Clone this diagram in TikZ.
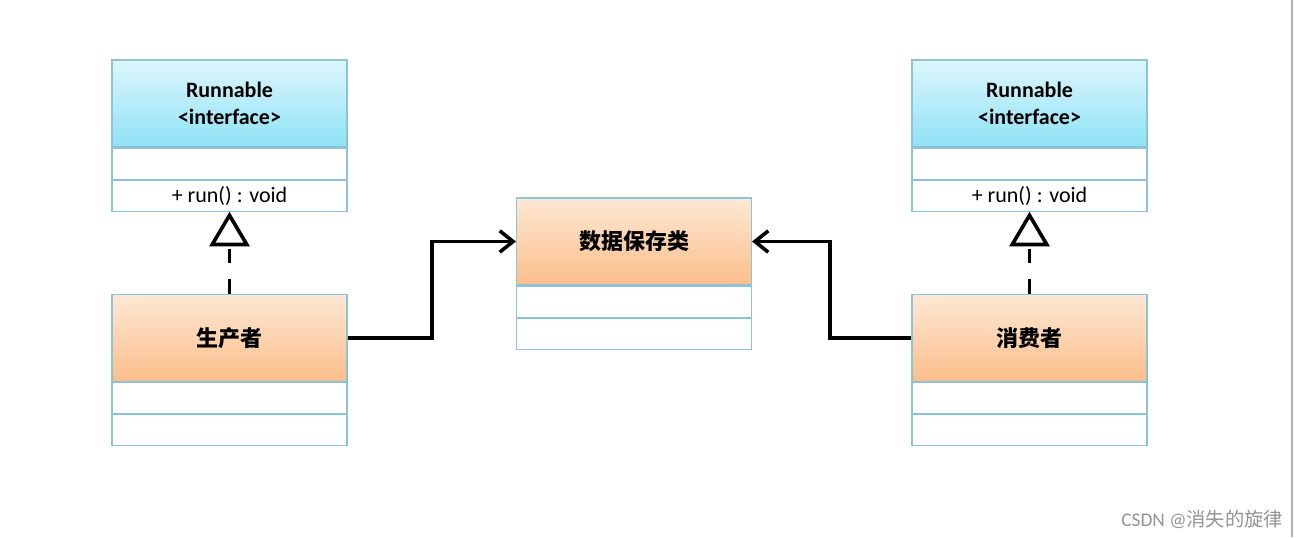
\documentclass[tikz,border=0pt]{standalone}
\usepackage{fontspec}
\setmainfont{Carlito}
\newfontfamily\cjk{Noto Sans CJK SC}
\usetikzlibrary{arrows.meta}
\definecolor{bd}{HTML}{8CC3D6}
\definecolor{cyTop}{HTML}{DDF6FC}
\definecolor{cyBot}{HTML}{8EE2F6}
\definecolor{orTop}{HTML}{FDE8D4}
\definecolor{orBot}{HTML}{FBBE8A}
\begin{document}
\begin{tikzpicture}[x=0.75pt,y=-0.75pt,
  hdr/.style={draw=bd,line width=0.8pt,minimum width=176.25pt,inner sep=0pt,align=center,font=\bfseries\fontsize{16.5}{20}\selectfont},
  cy/.style={hdr,top color=cyTop,bottom color=cyBot,minimum height=65.25pt},
  orh/.style={hdr,top color=orTop,bottom color=orBot,minimum height=65.25pt},
  row/.style={draw=bd,line width=0.8pt,minimum width=176.25pt,minimum height=23.25pt,inner sep=0pt,font=\fontsize{16.5}{20}\selectfont,fill=white},
  con/.style={line width=2.7pt,-{Straight Barb[length=10pt,width=16pt]}}]
\useasboundingbox (0,0) rectangle (1302,537);
\draw[gray!60,line width=1pt] (1292,0) -- (1292,537);
\node[cy] (r1) at (229.5,103.5) {Runnable\\\textless interface\textgreater};
\node[row,anchor=north] (r1a) at (r1.south) {};
\node[row,anchor=north] (r1b) at (r1a.south) {+ run() : void};
\node[cy] (r2) at (1029.5,103.5) {Runnable\\\textless interface\textgreater};
\node[row,anchor=north] (r2a) at (r2.south) {};
\node[row,anchor=north] (r2b) at (r2a.south) {+ run() : void};
\node[orh] (p) at (229.5,338) {\cjk 生产者};
\node[row,anchor=north] (pa) at (p.south) {};
\node[row,anchor=north] (pb) at (pa.south) {};
\node[orh] (c) at (1029.5,338) {\cjk 消费者};
\node[row,anchor=north] (ca) at (c.south) {};
\node[row,anchor=north] (cb) at (ca.south) {};
\node[orh] (d) at (634,241.5) {\cjk 数据保存类};
\node[row,anchor=north] (da) at (d.south) {};
\node[row,anchor=north] (db) at (da.south) {};
\foreach \a/\b in {p/r1b,c/r2b}{
  \draw[line width=2.7pt,dash pattern=on 11pt off 12pt,-{Triangle[open,length=26pt,width=30pt,line width=2.7pt]}] (\a.north) -- (\b.south);
}
\draw[con] (p.east) -- (432,338) |- (d.west);
\draw[con] (c.west) -- (830,338) |- (d.east);
\node[anchor=east,text=gray!85,font=\fontsize{14.5}{17}\selectfont] (w) at (1288,519) {CSDN @{\cjk 消失的旋律}};
\end{tikzpicture}
\end{document}
